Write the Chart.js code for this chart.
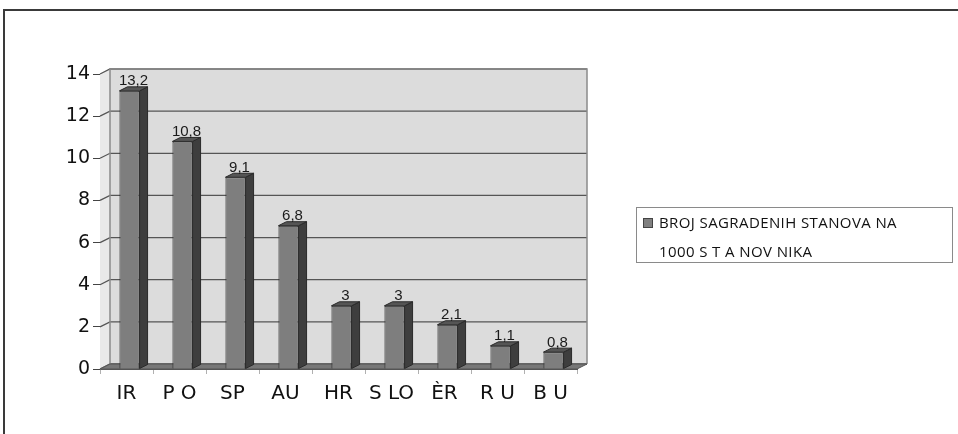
<!DOCTYPE html>
<html>
<head>
<meta charset="utf-8">
<script src="https://cdn.jsdelivr.net/npm/chart.js@4/dist/chart.umd.min.js"></script>
<style>
  html, body { margin: 0; padding: 0; background: #fff; }
  #wrap { position: relative; width: 958px; height: 434px; overflow: hidden; }
  #c { position: absolute; left: 0; top: 0; }
  #frameTop { position: absolute; left: 4px; top: 9px; width: 960px; height: 0; border-top: 2px solid #3a3a3a; }
  #frameLeft { position: absolute; left: 3px; top: 9px; width: 0; height: 430px; border-left: 2px solid #3a3a3a; }
  #legend { position: absolute; left: 636px; top: 207px; width: 317px; height: 56px; border: 1.5px solid #8a8a8a;
            font-family: "Open Sans", sans-serif; font-size: 15px; letter-spacing: 0.4px; color: #111; box-sizing: border-box; line-height: 20px; }
  #legend .sw { position: absolute; left: 6px; top: 10px; width: 8px; height: 8px; background: #808080; border: 1px solid #444; }
  #legend .l1 { position: absolute; left: 22px; top: 4px; white-space: nowrap; }
  #legend .l2 { position: absolute; left: 22px; top: 33px; white-space: nowrap; }
</style>
</head>
<body>
<div id="wrap">
  <canvas id="c" width="958" height="434"></canvas>
  <div id="frameTop"></div>
  <div id="frameLeft"></div>
  <div id="legend">
    <div class="sw"></div>
    <div class="l1" id="lg1"></div>
    <div class="l2" id="lg2"></div>
  </div>
</div>
<script>
const categories = ["IR", "P O", "SP", "AU", "HR", "S LO", "ÈR", "R U", "B U"];
const values = [13.2, 10.8, 9.1, 6.8, 3, 3, 2.1, 1.1, 0.8];
const seriesName = ["BROJ SAGRADENIH STANOVA NA", "1000 S T A NOV NIKA"];
const yTicks = [0, 2, 4, 6, 8, 10, 12, 14];

document.getElementById('lg1').textContent = seriesName[0];
document.getElementById('lg2').textContent = seriesName[1];

const DX = 10, DY = 5;      // wall depth
const BDX = 8, BDY = 4;     // bar depth
const SHIFT = 3;            // bar front-face shift

const wallPlugin = {
  id: 'wall3d',
  beforeDatasetsDraw(chart) {
    const ctx = chart.ctx, ca = chart.chartArea, y = chart.scales.y;
    ctx.save();
    ctx.fillStyle = '#e9e9e9';
    ctx.beginPath();
    ctx.moveTo(ca.left, ca.bottom); ctx.lineTo(ca.left, ca.top);
    ctx.lineTo(ca.left + DX, ca.top - DY); ctx.lineTo(ca.left + DX, ca.bottom - DY);
    ctx.closePath(); ctx.fill();
    ctx.fillStyle = '#dcdcdc';
    ctx.fillRect(ca.left + DX, ca.top - DY, ca.right - ca.left, ca.bottom - ca.top);
    ctx.strokeStyle = '#555';
    ctx.lineWidth = 1.3;
    yTicks.forEach(v => {
      const py = y.getPixelForValue(v);
      ctx.beginPath();
      ctx.moveTo(ca.left, py);
      ctx.lineTo(ca.left + DX, py - DY);
      ctx.lineTo(ca.right + DX, py - DY);
      ctx.stroke();
    });
    ctx.strokeStyle = '#8a8a8a';
    ctx.lineWidth = 1.5;
    ctx.beginPath();
    ctx.moveTo(ca.left + DX, ca.bottom - DY); ctx.lineTo(ca.left + DX, ca.top - DY);
    ctx.lineTo(ca.right + DX, ca.top - DY); ctx.lineTo(ca.right + DX, ca.bottom - DY);
    ctx.stroke();
    ctx.fillStyle = '#777';
    ctx.strokeStyle = '#555';
    ctx.lineWidth = 1;
    ctx.beginPath();
    ctx.moveTo(ca.left, ca.bottom); ctx.lineTo(ca.right, ca.bottom);
    ctx.lineTo(ca.right + DX, ca.bottom - DY); ctx.lineTo(ca.left + DX, ca.bottom - DY);
    ctx.closePath(); ctx.fill(); ctx.stroke();
    ctx.restore();
  },
  beforeDatasetDraw(chart) {
    chart.ctx.save();
    chart.ctx.translate(SHIFT, 0);
  },
  afterDatasetDraw(chart, args) {
    const ctx = chart.ctx;
    args.meta.data.forEach((bar, i) => {
      const p = bar.getProps(['x', 'y', 'base', 'width'], true);
      const l = p.x - p.width / 2, r = p.x + p.width / 2, t = p.y, b = p.base;
      ctx.lineWidth = 1;
      ctx.strokeStyle = '#2a2a2a';
      ctx.fillStyle = '#3e3e3e';
      ctx.beginPath();
      ctx.moveTo(r, t); ctx.lineTo(r + BDX, t - BDY); ctx.lineTo(r + BDX, b - BDY); ctx.lineTo(r, b);
      ctx.closePath(); ctx.fill(); ctx.stroke();
      ctx.fillStyle = '#555';
      ctx.beginPath();
      ctx.moveTo(l, t); ctx.lineTo(l + BDX, t - BDY); ctx.lineTo(r + BDX, t - BDY); ctx.lineTo(r, t);
      ctx.closePath(); ctx.fill(); ctx.stroke();
      ctx.fillStyle = '#1a1a1a';
      ctx.font = '15px "Liberation Sans", Arial, sans-serif';
      ctx.textAlign = 'center';
      ctx.textBaseline = 'bottom';
      ctx.fillText(String(values[i]).replace('.', ','), p.x + BDX / 2, t - BDY + 2);
    });
    ctx.restore();
  }
};

new Chart(document.getElementById('c'), {
  type: 'bar',
  data: {
    labels: categories,
    datasets: [{
      label: seriesName.join(' '),
      data: values,
      backgroundColor: '#7e7e7e',
      borderColor: '#2a2a2a',
      borderWidth: 1,
      categoryPercentage: 1,
      barPercentage: 0.38
    }]
  },
  options: {
    responsive: false,
    animation: false,
    layout: { padding: { left: 0, top: 74, right: 381, bottom: 20 } },
    plugins: { legend: { display: false }, tooltip: { enabled: false } },
    scales: {
      x: {
        afterFit(s) { s.height = 45; },
        grid: { display: true, drawOnChartArea: false, tickLength: 5, color: '#b0b0b0', lineWidth: 1 },
        border: { display: true, color: '#555', width: 1 },
        ticks: { color: '#111', padding: 8, font: { family: 'DejaVu Sans', size: 20 } }
      },
      y: {
        min: 0, max: 14,
        afterFit(s) { s.width = 100; },
        afterBuildTicks(s) { s.ticks = yTicks.map(v => ({ value: v })); },
        grid: { display: true, drawOnChartArea: false, tickLength: 7, color: '#444', lineWidth: 1 },
        border: { display: true, color: '#888', width: 1 },
        ticks: { color: '#111', padding: 3, font: { family: 'DejaVu Sans', size: 19 } }
      }
    }
  },
  plugins: [wallPlugin]
});
</script>
</body>
</html>
